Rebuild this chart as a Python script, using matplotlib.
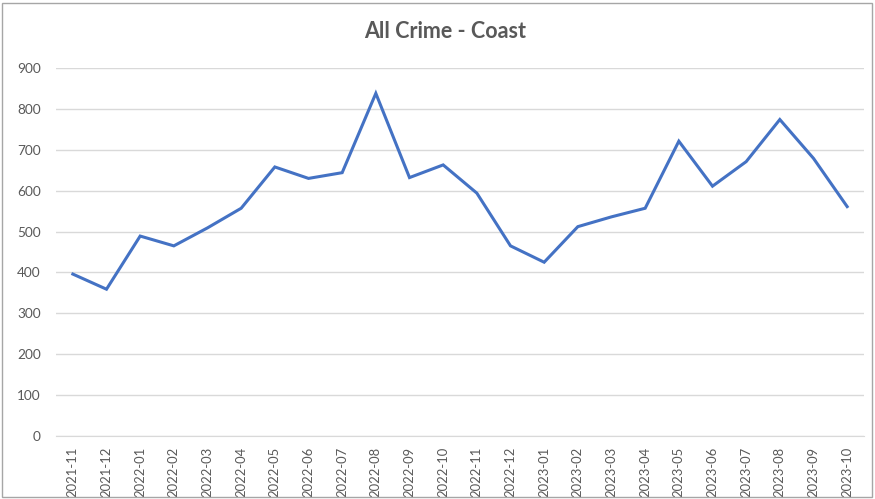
import matplotlib
matplotlib.use("Agg")
import matplotlib.pyplot as plt
from matplotlib.patches import Rectangle

months = ["2021-11", "2021-12", "2022-01", "2022-02", "2022-03", "2022-04",
          "2022-05", "2022-06", "2022-07", "2022-08", "2022-09", "2022-10",
          "2022-11", "2022-12", "2023-01", "2023-02", "2023-03", "2023-04",
          "2023-05", "2023-06", "2023-07", "2023-08", "2023-09", "2023-10"]
values = [396, 359, 489, 465, 509, 557,
          658, 630, 644, 838, 632, 663,
          594, 465, 425, 512, 536, 557,
          721, 611, 671, 774, 679, 561]
y_ticks = [0, 100, 200, 300, 400, 500, 600, 700, 800, 900]
title = "All Crime - Coast"

plt.rcParams['font.family'] = ['Lato', 'DejaVu Sans']

fig = plt.figure(figsize=(8.75, 4.99), dpi=100)
ax = fig.add_axes([56/875, 1-436/499, (864-56)/875, (436-68)/499])

x = list(range(len(months)))
ax.plot(x, values, color="#4472C4", linewidth=2.2, solid_joinstyle="miter")

ax.set_xlim(-0.5, len(months) - 0.5)
ax.set_ylim(0, 900)
ax.set_yticks(y_ticks)
ax.set_yticklabels([str(v) for v in y_ticks])
ax.set_xticks(x)
ax.set_xticklabels(months, rotation=90)

ax.grid(axis="y", color="#D9D9D9", linewidth=1)
ax.set_axisbelow(True)
for s in ["left", "right", "top"]:
    ax.spines[s].set_visible(False)
ax.spines["bottom"].set_color("#D9D9D9")
ax.tick_params(axis="both", length=0, colors="#595959", labelsize=9.8)
ax.tick_params(axis="x", labelsize=9.4)
ax.tick_params(axis="y", pad=11)
ax.tick_params(axis="x", pad=8)

fig.text(445/875, 1-32/499, title, ha="center", va="center",
         fontsize=15.5, fontweight="bold", color="#595959")

fig.patches.append(Rectangle((2/875, 2/499), 870/875, 494/499,
                             transform=fig.transFigure, fill=False,
                             edgecolor="#A6A6A6", linewidth=1))

fig.savefig("out.png", dpi=100)
